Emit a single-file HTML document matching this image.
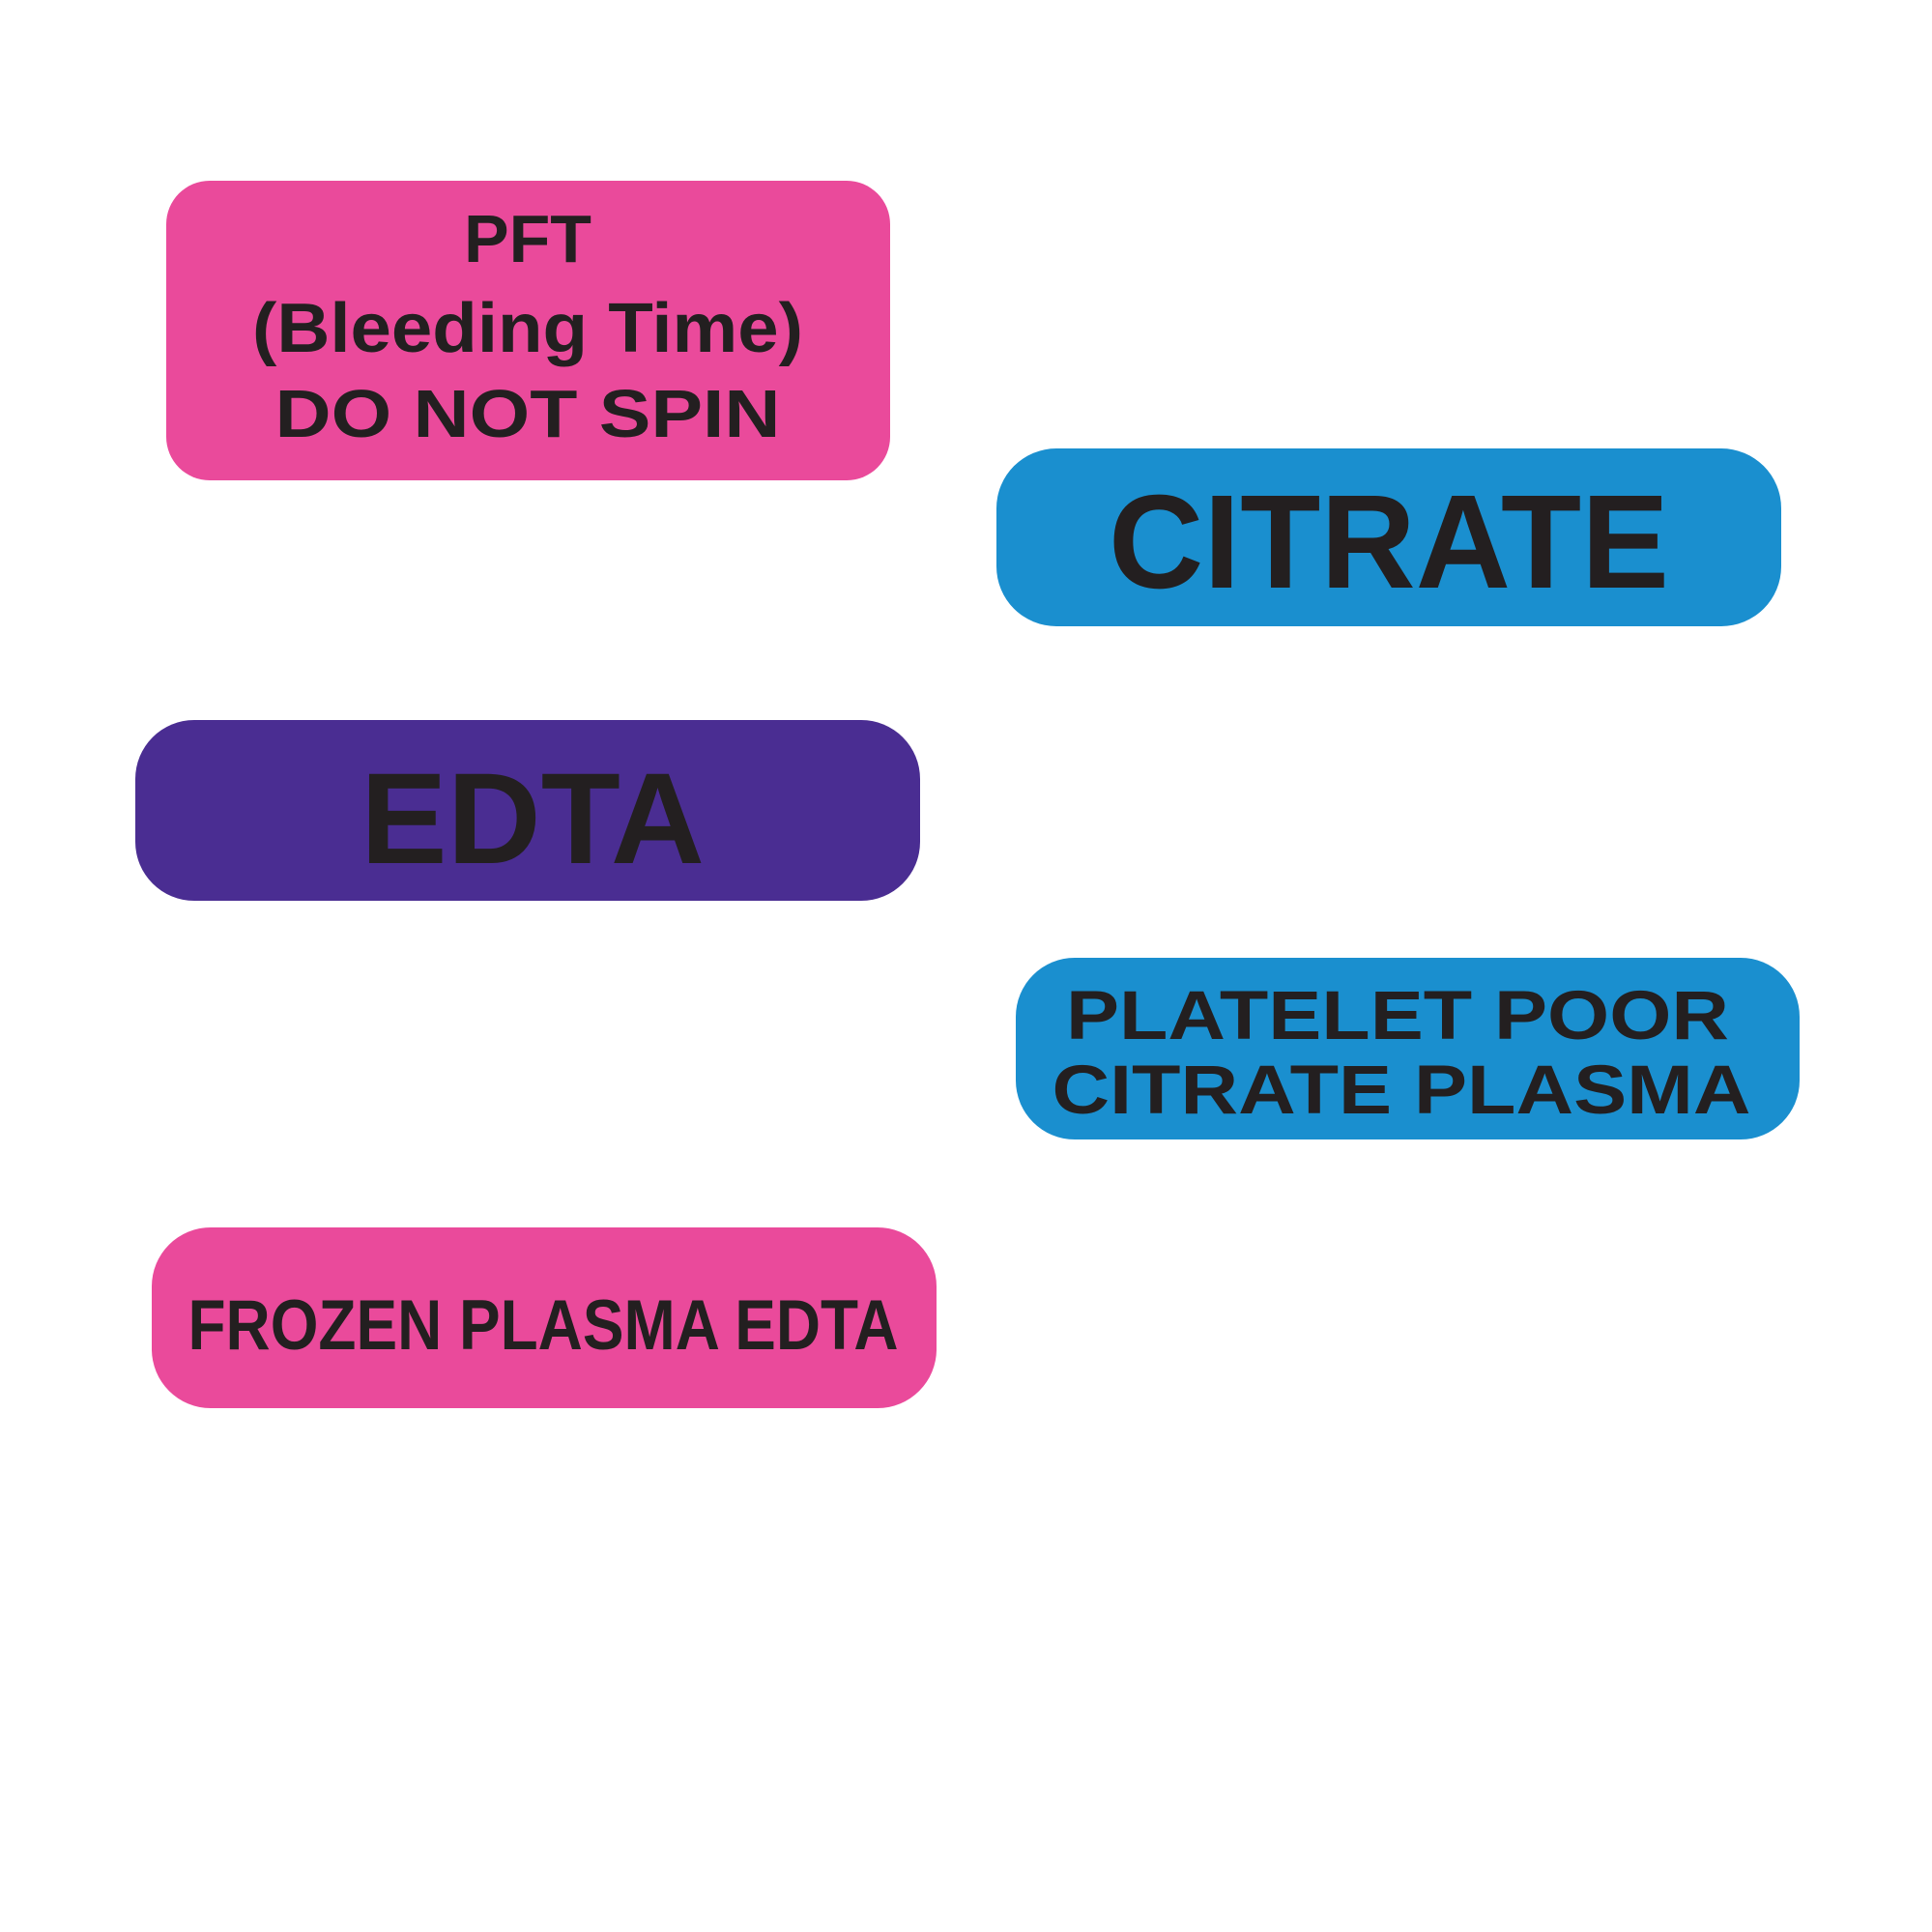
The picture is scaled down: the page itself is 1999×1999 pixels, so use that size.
<!DOCTYPE html>
<html><head><style>html,body{margin:0;padding:0;background:#fff;width:1999px;height:1999px;overflow:hidden}</style></head>
<body>
<svg width="1999" height="1999" viewBox="0 0 1999 1999" xmlns="http://www.w3.org/2000/svg" style="display:block">
<g font-family="Liberation Sans, Arial, sans-serif" font-weight="bold" fill="#231f20" text-anchor="middle">
<rect x="172" y="187" width="749" height="310" rx="45" fill="#ea4a9b"/>
<text x="546" y="271" font-size="70" textLength="132" lengthAdjust="spacingAndGlyphs">PFT</text>
<text x="546" y="364" font-size="72" textLength="570" lengthAdjust="spacingAndGlyphs">(Bleeding Time)</text>
<text x="546" y="452" font-size="70" textLength="523" lengthAdjust="spacingAndGlyphs">DO NOT SPIN</text>

<rect x="1031" y="464" width="812" height="184" rx="62" fill="#1a8fcf"/>
<text x="1437" y="608" font-size="138" textLength="580" lengthAdjust="spacingAndGlyphs">CITRATE</text>

<rect x="140" y="745" width="812" height="187" rx="61" fill="#4a2d92"/>
<text x="551" y="893" font-size="134" textLength="356" lengthAdjust="spacingAndGlyphs">EDTA</text>

<rect x="1051" y="991" width="811" height="188" rx="61" fill="#1a8fcf"/>
<text x="1446" y="1075" font-size="71" textLength="686" lengthAdjust="spacingAndGlyphs">PLATELET POOR</text>
<text x="1450" y="1152" font-size="71" textLength="723" lengthAdjust="spacingAndGlyphs">CITRATE PLASMA</text>

<rect x="157" y="1270" width="812" height="187" rx="61" fill="#ea4a9b"/>
<text x="562" y="1396" font-size="73" textLength="735" lengthAdjust="spacingAndGlyphs">FROZEN PLASMA EDTA</text>
</g>
</svg>
</body></html>
